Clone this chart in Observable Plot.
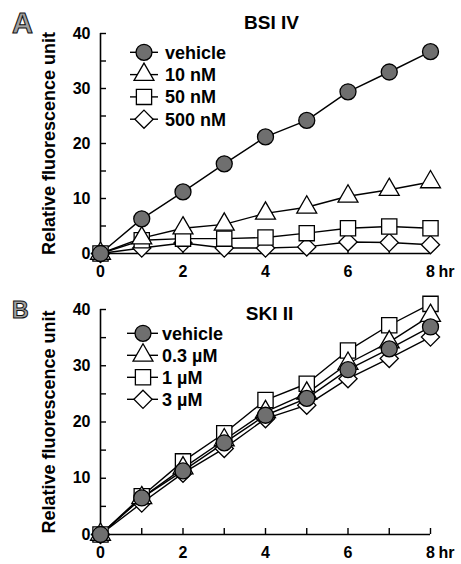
<!DOCTYPE html>
<html><head><meta charset="utf-8">
<script src="https://cdn.jsdelivr.net/npm/d3@7"></script>
<script src="https://cdn.jsdelivr.net/npm/@observablehq/plot@0.6"></script>
<style>
body{margin:0;background:#fff;}
#chart{width:461px;}
#chart svg{display:block;}
</style></head><body><div id="chart"></div>
<script>
// ---- data ----
const hours = [0, 1, 2, 3, 4, 5, 6, 7, 8];
const yLabel = "Relative fluorescence unit";
const xUnit = "hr";
const yTicks = [0, 10, 20, 30, 40];
const yMinorTicks = [0, 5, 10, 15, 20, 25, 30, 35, 40];
const xTicks = [0, 2, 4, 6, 8];
const xMinorTicks = [0, 1, 2, 3, 4, 5, 6, 7, 8];

const panelA_letter = "A";
const panelA_title = "BSI IV";
const panelA_series = ["vehicle", "10 nM", "50 nM", "500 nM"];
const panelA_vehicle = [0, 6.3, 11.2, 16.3, 21.2, 24.2, 29.4, 33.0, 36.7];
const panelA_10nM    = [0, 2.8, 4.6, 5.3, 7.3, 8.4, 10.4, 11.6, 13.0];
const panelA_50nM    = [0, 2.4, 2.7, 2.7, 2.9, 3.7, 4.6, 4.9, 4.6];
const panelA_500nM   = [0, 1.0, 1.9, 1.0, 1.0, 1.2, 2.1, 2.0, 1.6];

const panelB_letter = "B";
const panelB_title = "SKI II";
const panelB_series = ["vehicle", "0.3 \u00b5M", "1 \u00b5M", "3 \u00b5M"];
const panelB_vehicle = [0, 6.5, 11.3, 16.3, 21.2, 24.2, 29.3, 33.0, 36.9];
const panelB_03uM    = [0, 6.5, 11.8, 16.8, 21.8, 25.1, 30.4, 34.2, 38.9];
const panelB_1uM     = [0, 6.8, 13.0, 18.0, 23.9, 26.8, 32.7, 37.2, 41.0];
const panelB_3uM     = [0, 5.6, 10.9, 15.3, 20.6, 23.0, 27.7, 31.3, 35.1];

// ---- styling ----
const FONT = "'Liberation Sans', Arial, Helvetica, sans-serif";
const symbolStyles = [
  {symbol: "circle",   d3sym: d3.symbolCircle,   r: 8,   fill: "#6f6f6f"},
  {symbol: "triangle", d3sym: d3.symbolTriangle, r: 7.4, fill: "#fff"},
  {symbol: "square",   d3sym: d3.symbolSquare,   r: 8.6, fill: "#fff"},
  {symbol: "diamond2", d3sym: d3.symbolDiamond2, r: 8.2, fill: "#fff"}
];

function makePanel(cfg) {
  const W = 461, H = 282;
  const mL = 100, mR = 31;
  const frameW = W - mL - mR, frameH = H - cfg.mT - cfg.mB;
  const rows = [];
  cfg.values.forEach((vals, si) => hours.forEach((h, i) => rows.push({hour: h, value: vals[i], series: cfg.series[si], si})));
  const drawOrder = [3, 2, 1, 0];
  const marks = [
    Plot.ruleY([0], {stroke: "#000", strokeWidth: 1.6}),
    Plot.ruleX([0], {stroke: "#000", strokeWidth: 1.6}),
    Plot.tickY(yMinorTicks, {y: d => d, stroke: "#000", strokeWidth: 1.4, insetRight: frameW - 6}),
    Plot.tickX(xMinorTicks, {x: d => d, stroke: "#000", strokeWidth: 1.4, insetTop: frameH - 6}),
    Plot.axisY(yTicks, {tickSize: 0, tickPadding: 10, fontSize: 16, fontWeight: "bold", label: null, fill: "#000"}),
    Plot.axisX(xTicks, {tickSize: 0, tickPadding: 12, fontSize: 16, fontWeight: "bold", label: null, fill: "#000"}),
    Plot.text([xUnit], {frameAnchor: "bottom-right", dx: 8, dy: 12, textAnchor: "start", lineAnchor: "top", fontSize: 16, fontWeight: "bold", fill: "#000"}),
    Plot.text([yLabel], {frameAnchor: "left", dx: -51, rotate: -90, textAnchor: "middle", lineAnchor: "middle", fontSize: 18, fontWeight: "bold", fill: "#000"}),
    Plot.text([cfg.title], {frameAnchor: "top", dx: cfg.titleDx, dy: cfg.titleDy, textAnchor: "middle", lineAnchor: "middle", fontSize: 19, fontWeight: "bold", fill: "#000"}),
    Plot.line(rows, {x: "hour", y: "value", z: "series", stroke: "#000", strokeWidth: 1.4})
  ];
  drawOrder.forEach(si => {
    const s = symbolStyles[si];
    marks.push(Plot.dot(rows.filter(d => d.si === si), {x: "hour", y: "value", symbol: () => s.symbol, r: s.r, fill: s.fill, stroke: "#000", strokeWidth: 1.3}));
  });
  const svg = Plot.plot({
    width: W, height: H,
    marginLeft: mL, marginRight: mR, marginTop: cfg.mT, marginBottom: cfg.mB,
    x: {domain: [0, 8], axis: null},
    y: {domain: [0, 40], axis: null},
    symbol: {type: "identity"},
    style: {fontFamily: FONT, background: "#fff", color: "#000", overflow: "visible"},
    marks
  });
  const sel = d3.select(svg);
  // panel letter
  sel.append("text").attr("x", 12).attr("y", cfg.letterY).text(cfg.letter)
    .attr("text-anchor", "start")
    .attr("font-family", FONT).attr("font-weight", "bold").attr("font-size", cfg.letterSize)
    .attr("fill", "#a0a0a0").attr("stroke", "#111").attr("stroke-width", 1);
  // legend
  const lg = sel.append("g").attr("font-family", FONT).attr("font-weight", "bold").attr("font-size", 18).attr("text-anchor", "start");
  cfg.series.forEach((name, i) => {
    const y = cfg.legY + i * cfg.legStep;
    const s = symbolStyles[i];
    lg.append("line").attr("x1", cfg.legX0).attr("x2", cfg.legX1).attr("y1", y).attr("y2", y).attr("stroke", "#000").attr("stroke-width", 1.4);
    lg.append("path").attr("d", d3.symbol(s.d3sym, Math.PI * s.r * s.r)()).attr("transform", `translate(${cfg.legCx},${y})`)
      .attr("fill", s.fill).attr("stroke", "#000").attr("stroke-width", 1.3);
    lg.append("text").attr("x", cfg.legTx).attr("y", y).attr("dy", "0.35em").attr("text-anchor", "start").text(name).attr("fill", "#000");
  });
  return svg;
}

const root = document.getElementById("chart");
root.appendChild(makePanel({
  letter: panelA_letter, letterY: 33, letterSize: 29,
  title: panelA_title, titleDx: 6, titleDy: -11,
  series: panelA_series,
  values: [panelA_vehicle, panelA_10nM, panelA_50nM, panelA_500nM],
  mT: 33, mB: 29,
  legY: 52.3, legStep: 22.3, legX0: 130, legX1: 158, legCx: 144, legTx: 165
}));
root.appendChild(makePanel({
  letter: panelB_letter, letterY: 36, letterSize: 23,
  title: panelB_title, titleDx: 4, titleDy: 4,
  series: panelB_series,
  values: [panelB_vehicle, panelB_03uM, panelB_1uM, panelB_3uM],
  mT: 27, mB: 30,
  legY: 51.3, legStep: 22, legX0: 127, legX1: 158, legCx: 143, legTx: 162
}));
</script>
</body></html>
